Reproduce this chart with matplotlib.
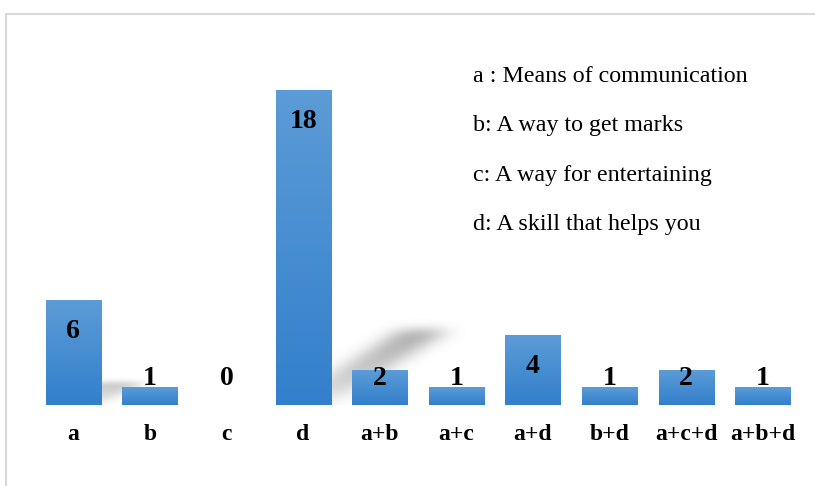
import numpy as np
import matplotlib.pyplot as plt
from matplotlib.patches import Rectangle
from matplotlib.path import Path

# data
categories = ['a', 'b', 'c', 'd', 'a+b', 'a+c', 'a+d', 'b+d', 'a+c+d', 'a+b+d']
counts = [6, 1, 0, 18, 2, 1, 4, 1, 2, 1]
legend_lines = [
    'a : Means of communication',
    'b: A way to get marks',
    'c: A way for entertaining',
    'd: A skill that helps you',
]

plt.rcParams['font.family'] = ['Liberation Serif', 'DejaVu Serif']

W, H = 815, 486
fig = plt.figure(figsize=(W / 100, H / 100), dpi=100)

# outer chart frame (light gray, runs off right/bottom edge)
fig.patches.append(Rectangle((6 / W, -0.1), 1.2, 1 - 14 / H + 0.1,
                             transform=fig.transFigure, fill=False,
                             edgecolor='#d9d9d9', linewidth=1.5))

# axes placed so that baseline sits at y=405 px and bar centres match
ax = fig.add_axes([35 / W, (H - 405) / H, (801 - 35) / W, (405 - 90) / H * 20 / 18])
ax.axis('off')

x = np.arange(len(categories))
bw = 0.72


def box_blur(a, r, axis):
    k = np.ones(2 * r + 1) / (2 * r + 1)
    return np.apply_along_axis(lambda m: np.convolve(m, k, mode='same'), axis, a)


# soft perspective shadow cast by a bar, blurred with numpy
def soft_shadow(xc, dx, dy, strength):
    x0, x1 = xc - bw / 2, xc + bw / 2
    ext = (x0 - 0.4, x1 + dx + 0.5, -0.3, dy + 1.2)
    nx, ny = 240, 180
    gx = np.linspace(ext[0], ext[1], nx)
    gy = np.linspace(ext[2], ext[3], ny)
    X, Y = np.meshgrid(gx, gy)
    poly = Path([(x0 + 0.1, 0), (x1, 0), (x1 + dx, dy), (x0 + 0.1 + dx, dy)])
    mask = poly.contains_points(np.c_[X.ravel(), Y.ravel()]).reshape(ny, nx)
    a = mask.astype(float) * np.clip(Y / dy, 0, 1) ** 0.5
    for _ in range(3):
        a = box_blur(a, 10, 1)
        a = box_blur(a, 8, 0)
    rgba = np.zeros((ny, nx, 4))
    rgba[..., :3] = 0.45
    rgba[..., 3] = a * strength
    ax.imshow(rgba, extent=ext, origin='lower', aspect='auto', zorder=1,
              interpolation='bilinear')


soft_shadow(x[3], 1.55, 4.3, 0.6)
soft_shadow(x[0], 0.55, 1.3, 0.4)

# gradient bars
grad = np.linspace(0, 1, 256).reshape(-1, 1, 1)
top = np.array([0.36, 0.61, 0.84])
bot = np.array([0.20, 0.50, 0.80])
img = top + (bot - top) * grad
for xi, v in zip(x, counts):
    if v <= 0:
        continue
    ax.imshow(img, extent=(xi - bw / 2, xi + bw / 2, 0, v), aspect='auto',
              origin='upper', zorder=2)

# value labels, inside the bar top (clamped for small bars)
for xi, v in zip(x, counts):
    ly = max(v - 1.8, 1.5)
    ax.text(xi, ly, str(v), ha='center', va='center', fontsize=20,
            fontweight='bold', color='black', zorder=3)

# category labels
for xi, c in zip(x, categories):
    ax.text(xi, -1.7, c, ha='center', va='center', fontsize=17,
            fontweight='bold', color='black')

ax.set_xlim(-0.5, len(categories) - 0.5)
ax.set_ylim(0, 20)

# legend text block
for i, line in enumerate(legend_lines):
    fig.text(473 / W, 1 - (76 + i * 49.5) / H, line, ha='left', va='center',
             fontsize=17.3, color='black')

fig.savefig('out.png', dpi=100)
